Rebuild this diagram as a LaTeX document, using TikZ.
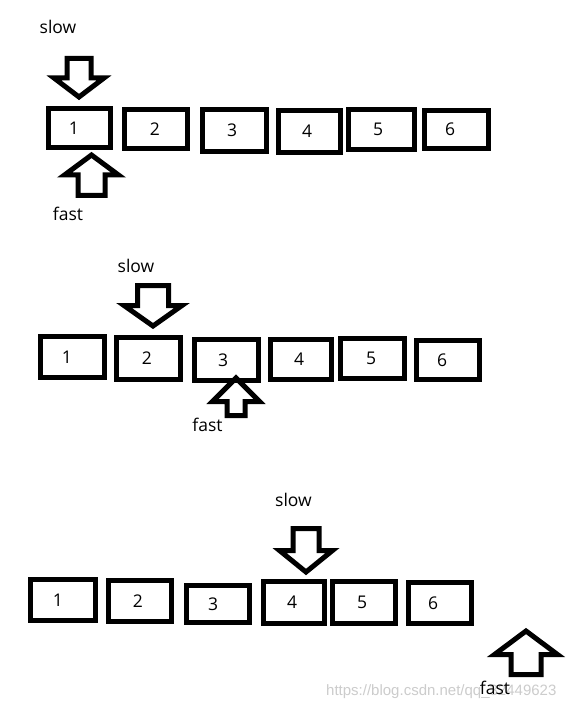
\documentclass[tikz,border=0pt]{standalone}
\usepackage{fontspec}
\setmainfont{Open Sans}
\newfontfamily\wmfont{Liberation Sans}
\tikzset{
  boxst/.style={draw=black, line width=5pt, miter limit=10, rectangle, inner sep=0pt},
  numst/.style={inner sep=0pt, font=\fontsize{17.5}{19}\selectfont},
  lblst/.style={inner sep=0pt, font=\fontsize{17.5}{19}\selectfont},
  arrst/.style={draw=black, line width=5pt, line join=miter, miter limit=10},
  wmst/.style={inner sep=0pt, text=black!20, font=\wmfont\fontsize{15}{17}\selectfont}
}
\newcommand\bx[7]{%
  \node[boxst, minimum width=#4pt, minimum height=#5pt] (#1) at (#2,#3) {};
  \node[numst] (#1t) at (#7,#3) {#6};}
\newcommand\fatarr[7]{%
  \draw[arrst] (#1,#2) -- ++(#4,{-(#3)*(#5)}) -- ++({-(#4)+(#6)},0)
    -- ++(0,{-(#3)*((#7)-(#5))}) -- ++({-2*(#6)},0)
    -- ++(0,{(#3)*((#7)-(#5))}) -- ++({-(#4)+(#6)},0) -- cycle;}
\begin{document}
\begin{tikzpicture}[x=1pt,y=-1pt]
\useasboundingbox[fill=white] (0,0) rectangle (577,711);
% watermark
\node[wmst, anchor=west] (wm) at (326,692) {https://blog.csdn.net/qq\_32449623};
% row 1
\bx{ra1}{79.5}{128}{62}{39}{1}{74}
\bx{ra2}{156}{129}{63}{39}{2}{155}
\bx{ra3}{234.5}{130.5}{64}{42}{3}{232}
\bx{ra4}{309.5}{131.5}{62}{42}{4}{307}
\bx{ra5}{381.5}{129.5}{66}{40}{5}{378}
\bx{ra6}{456.5}{129.5}{64}{38}{6}{450}
\node[lblst] (slowa) at (58,27) {slow};
\node[lblst] (fasta) at (68,214) {fast};
\fatarr{79}{97}{1}{25}{19}{12}{38.5}
\fatarr{91.5}{155}{-1}{27}{20}{13.5}{40.5}
% row 2
\bx{rb1}{72.5}{357}{64}{41}{1}{67}
\bx{rb2}{148.5}{358.5}{64}{42}{2}{147}
\bx{rb3}{226.5}{360}{64}{41}{3}{223}
\bx{rb4}{301}{359.5}{61}{40}{4}{299}
\bx{rb5}{372.5}{358.5}{64}{40}{5}{371}
\bx{rb6}{448}{360}{63}{39}{6}{442}
\node[lblst] (slowb) at (136,266) {slow};
\node[lblst] (fastb) at (207.5,425) {fast};
\fatarr{153}{326}{1}{29}{20.5}{15.5}{40.5}
\fatarr{236}{378}{-1}{23.5}{23.5}{9}{37.5}
% row 3
\bx{rc1}{63}{600}{65}{41}{1}{58}
\bx{rc2}{140}{601}{63}{41}{2}{138}
\bx{rc3}{218}{604}{63}{37}{3}{213}
\bx{rc4}{294}{602.5}{61}{42}{4}{292}
\bx{rc5}{364}{602.5}{63}{42}{5}{362}
\bx{rc6}{440}{603}{63}{41}{6}{433}
\node[lblst] (slowc) at (293.5,500) {slow};
\fatarr{306}{572}{1}{26.5}{21.5}{13}{43.5}
\fatarr{526}{631}{-1}{31.5}{23.5}{15}{43.5}
\node[lblst] (fastc) at (495,688) {fast};
\end{tikzpicture}
\end{document}
